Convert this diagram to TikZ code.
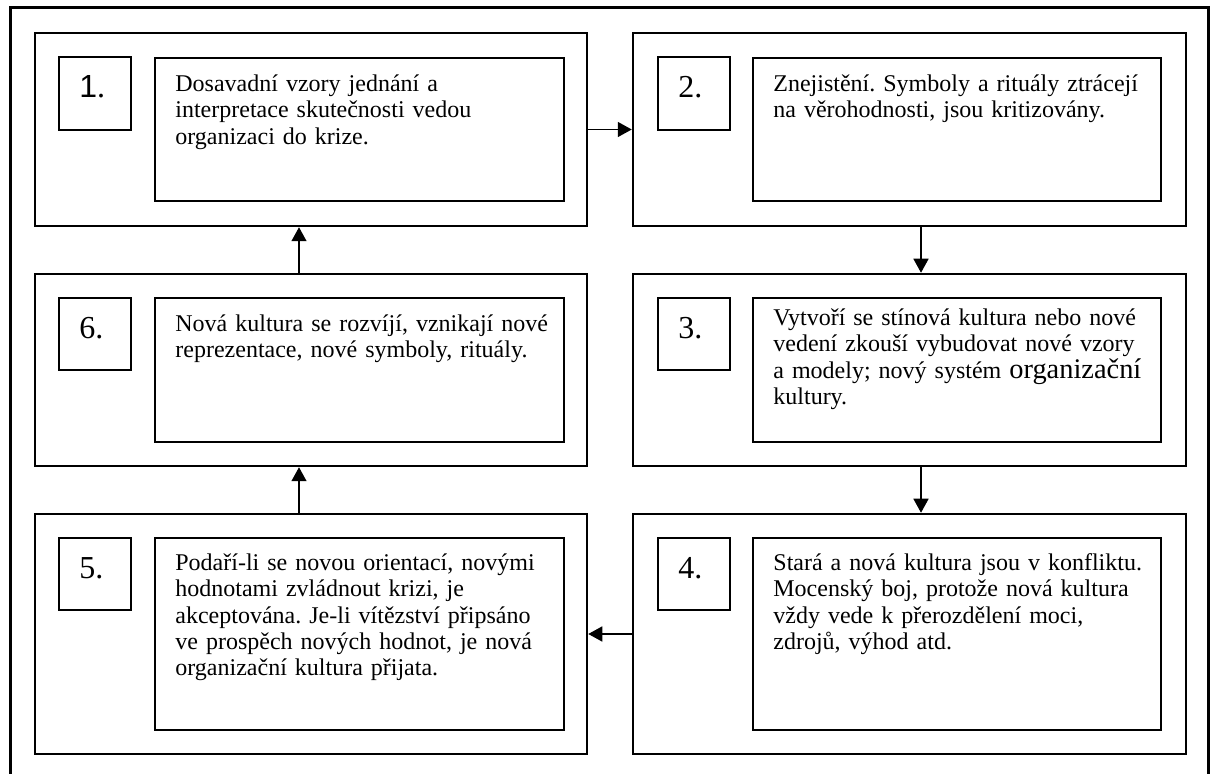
\documentclass[tikz,border=0pt]{standalone}
\usepackage{fontspec}
\setmainfont{Liberation Serif}
\newfontfamily\numsans{Liberation Sans}
\usetikzlibrary{arrows.meta,fit}
\frenchspacing
\begin{document}
\begin{tikzpicture}[x=0.5pt,y=-0.5pt,
  panel/.style={draw, line width=1.25pt, inner sep=0pt, fit={#1}},
  numbox/.style={draw, line width=1pt, inner sep=0pt, fit={#1}},
  textbox/.style={draw, line width=0.8pt, inner sep=0pt, fit={#1}},
  numtext/.style={anchor=base west, inner sep=0pt, font=\rmfamily\fontsize{16}{19}\selectfont},
  bodytext/.style={anchor=north west, inner sep=0pt, text width=200pt, align=left,
                   font=\rmfamily\fontsize{12}{13.2}\selectfont},
  arr/.style={line width=0.75pt, -{Triangle[length=7pt,width=7.5pt]}},
  frame/.style={line width=1.5pt}]
\useasboundingbox (0,0) rectangle (1215,774);

% outer frame, open at the bottom
\draw[frame] (10,774) -- (10,7.5) -- (1208,7.5) -- (1208,774);

% stage panels
\node[panel={(35,33) (587,226)}]   (s1) {};
\node[panel={(633,33) (1186,226)}] (s2) {};
\node[panel={(633,274) (1186,466)}] (s3) {};
\node[panel={(633,514) (1186,754)}] (s4) {};
\node[panel={(35,514) (587,754)}]   (s5) {};
\node[panel={(35,274) (587,466)}]   (s6) {};

% number boxes
\node[numbox={(59,57) (131,130)}]   (n1) {};
\node[numbox={(658,57) (730,130)}]  (n2) {};
\node[numbox={(658,298) (730,370)}] (n3) {};
\node[numbox={(658,538) (730,610)}] (n4) {};
\node[numbox={(59,538) (131,610)}]  (n5) {};
\node[numbox={(59,298) (131,370)}]  (n6) {};

\node[numtext] (l1) at (79,98)  {{\numsans 1}.};
\node[numtext] (l2) at (678,98) {2.};
\node[numtext] (l3) at (678,339) {3.};
\node[numtext] (l4) at (678,579) {4.};
\node[numtext] (l5) at (79,579) {5.};
\node[numtext] (l6) at (79,339) {6.};

% text boxes
\node[textbox={(155,58) (564,201)}]   (t1) {};
\node[textbox={(753,58) (1161,201)}]  (t2) {};
\node[textbox={(753,298) (1161,442)}] (t3) {};
\node[textbox={(753,538) (1161,730)}] (t4) {};
\node[textbox={(155,538) (564,730)}]  (t5) {};
\node[textbox={(155,298) (564,442)}]  (t6) {};

\node[bodytext] (x1) at (175,72.5) {\strut Dosavadní vzory jednání a\\
  interpretace skutečnosti vedou\\ organizaci do krize.};
\node[bodytext] (x2) at (773,72.5) {\strut Znejistění. Symboly a rituály ztrácejí\\
  na věrohodnosti, jsou kritizovány.};
\node[bodytext] (x3) at (773,306.5) {\strut Vytvoří se stínová kultura nebo nové\\
  vedení zkouší vybudovat nové vzory\\
  a modely; nový systém {\fontsize{14.2}{13.2}\selectfont organizační}\\ kultury.};
\node[bodytext] (x4) at (773,551.5) {\strut Stará a nová kultura jsou v konfliktu.\\
  Mocenský boj, protože nová kultura\\ vždy vede k přerozdělení moci,\\
  zdrojů, výhod atd.};
\node[bodytext] (x5) at (175,551.5) {\strut Podaří-li se novou orientací, novými\\
  hodnotami zvládnout krizi, je\\ akceptována. Je-li vítězství připsáno\\
  ve prospěch nových hodnot, je nová\\ organizační kultura přijata.};
\node[bodytext] (x6) at (175,312.5) {\strut Nová kultura se rozvíjí, vznikají nové\\
  reprezentace, nové symboly, rituály.};

% connectors between stages
\coordinate (right col) at (921,0);
\coordinate (left col) at (299,0);
\draw[arr] (s1.east) -- (s2.west);
\draw[arr] (right col |- s2.south) -- (right col |- s3.north);
\draw[arr] (right col |- s3.south) -- (right col |- s4.north);
\draw[arr] (s4.west) -- (s5.east);
\draw[arr] (left col |- s5.north) -- (left col |- s6.south);
\draw[arr] (left col |- s6.north) -- (left col |- s1.south);
\end{tikzpicture}
\end{document}
